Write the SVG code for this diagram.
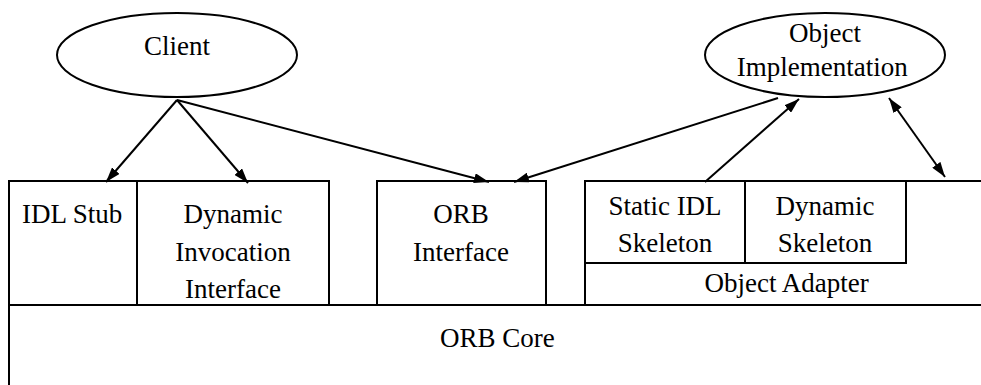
<svg xmlns="http://www.w3.org/2000/svg" width="981" height="385" viewBox="0 0 981 385">
<style>
.s{fill:none;stroke:#000;stroke-width:2}
.e{fill:#fff;stroke:#000;stroke-width:2}
.c{fill:none;stroke:#000;stroke-width:2}
.t{font-family:"Liberation Serif",serif;font-size:27px;fill:#000}
</style>
<defs>
<marker id="ah" viewBox="0 0 15 10" refX="15" refY="5" markerWidth="15" markerHeight="10" markerUnits="userSpaceOnUse" orient="auto-start-reverse">
<path d="M0,0 L15,5 L0,10 z" fill="#000"/>
</marker>
</defs>
<rect width="981" height="385" fill="#fff"/>
<g id="orb-core">
<path class="s" d="M9,385 V305 H981"/>
<text class="t" x="440" y="347">ORB Core</text>
</g>
<g id="idl-stub">
<path class="s" d="M9,305 V181 H137 V305"/>
<text class="t" x="22" y="223">IDL Stub</text>
</g>
<g id="dii">
<rect class="s" x="137" y="181" width="192" height="124"/>
<text class="t" x="183.5" y="223">Dynamic</text>
<text class="t" x="175.3" y="261">Invocation</text>
<text class="t" x="185" y="298">Interface</text>
</g>
<g id="orb-interface">
<rect class="s" x="377" y="181" width="169" height="124"/>
<text class="t" x="433.2" y="223">ORB</text>
<text class="t" x="413" y="261">Interface</text>
</g>
<g id="object-adapter">
<path class="s" d="M981,181 H585 V305"/>
<path class="s" d="M585,263 H906 V181"/>
<text class="t" x="704.5" y="292">Object Adapter</text>
</g>
<g id="static-idl-skeleton">
<path class="s" d="M745,181 V263"/>
<text class="t" x="608.4" y="215">Static IDL</text>
<text class="t" x="617.8" y="252">Skeleton</text>
</g>
<g id="dynamic-skeleton">
<text class="t" x="775.5" y="215">Dynamic</text>
<text class="t" x="777.8" y="252">Skeleton</text>
</g>
<g id="client">
<ellipse class="e" cx="177" cy="55" rx="120" ry="42"/>
<text class="t" x="144" y="55">Client</text>
</g>
<g id="object-implementation">
<ellipse class="e" cx="825" cy="55" rx="120" ry="42"/>
<text class="t" x="789" y="42">Object</text>
<text class="t" x="736.8" y="76">Implementation</text>
</g>
<g id="connectors">
<line class="c" x1="177" y1="100" x2="106" y2="182" marker-end="url(#ah)"/>
<line class="c" x1="177" y1="100" x2="248" y2="183" marker-end="url(#ah)"/>
<line class="c" x1="177" y1="100" x2="489" y2="182" marker-end="url(#ah)"/>
<line class="c" x1="778" y1="98" x2="514" y2="182" marker-end="url(#ah)"/>
<line class="c" x1="705" y1="182" x2="799" y2="99" marker-end="url(#ah)"/>
<line class="c" x1="889" y1="98" x2="945" y2="177" marker-start="url(#ah)" marker-end="url(#ah)"/>
</g>
</svg>
